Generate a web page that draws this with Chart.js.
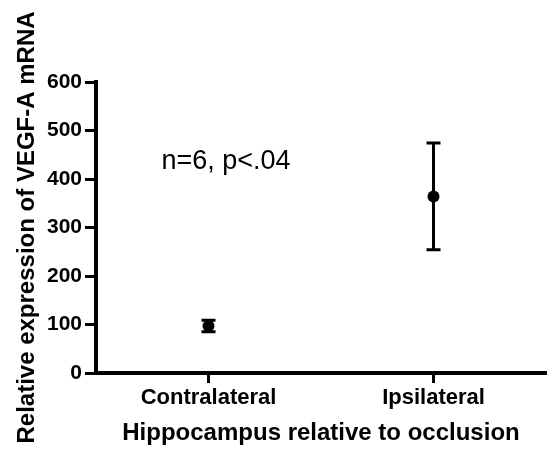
<!DOCTYPE html>
<html>
<head>
<meta charset="utf-8">
<script src="https://cdn.jsdelivr.net/npm/chart.js@4.4.0/dist/chart.umd.min.js"></script>
<style>
  html, body { margin: 0; padding: 0; background: #fff; }
  #wrap { width: 553px; height: 449px; }
</style>
</head>
<body>
<div id="wrap"><canvas id="myChart"></canvas></div>
<script>
// data
const groups = ['Contralateral', 'Ipsilateral'];
const means = [97, 364];
const errors = [12, 110];
const yTicks = [0, 100, 200, 300, 400, 500, 600];
const note = 'n=6, p<.04';

const FONT = "'Liberation Sans', Arial, Helvetica, sans-serif";

// error bars drawn through the scales, under the dots
const errorBars = {
    id: 'errorBars',
    beforeDatasetsDraw(chart) {
        const ctx = chart.ctx;
        const xs = chart.scales.x, ys = chart.scales.y;
        ctx.save();
        ctx.strokeStyle = '#000';
        ctx.lineWidth = 3;
        for (let i = 0; i < means.length; i++) {
            const x = xs.getPixelForValue(i);
            const top = ys.getPixelForValue(means[i] + errors[i]);
            const bot = ys.getPixelForValue(means[i] - errors[i]);
            ctx.beginPath();
            ctx.moveTo(x, top); ctx.lineTo(x, bot);
            ctx.moveTo(x - 7, top); ctx.lineTo(x + 7, top);
            ctx.moveTo(x - 7, bot); ctx.lineTo(x + 7, bot);
            ctx.stroke();
        }
        ctx.restore();
    },
    afterDraw(chart) {
        const ctx = chart.ctx;
        const xs = chart.scales.x, ys = chart.scales.y;
        ctx.save();
        ctx.fillStyle = '#000';
        ctx.font = '27px ' + FONT;
        ctx.textBaseline = 'middle';
        ctx.fillText(note, xs.getPixelForValue(0) - 47, ys.getPixelForValue(435));
        ctx.restore();
    }
};

const ctx = document.getElementById('myChart');
const myChart = new Chart(ctx, {
    type: 'line',
    data: {
        labels: groups,
        datasets: [{
            data: means,
            showLine: false,
            pointRadius: 6,
            pointHoverRadius: 6,
            pointBackgroundColor: '#000',
            pointBorderColor: '#000',
            pointBorderWidth: 0
        }]
    },
    options: {
        responsive: true,
        maintainAspectRatio: false,
        animation: false,
        events: [],
        layout: { padding: { left: 0, right: 7, top: 82, bottom: 0 } },
        plugins: {
            legend: { display: false },
            tooltip: { enabled: false }
        },
        scales: {
            x: {
                type: 'category',
                offset: true,
                afterFit: (s) => { s.height = 76; },
                border: { display: true, color: '#000', width: 4 },
                grid: { drawOnChartArea: false, offset: false, color: '#000', tickLength: 10, tickWidth: 3 },
                ticks: { color: '#000', padding: 2, font: { family: FONT, size: 22, weight: 'bold' } },
                title: {
                    display: true,
                    text: 'Hippocampus relative to occlusion',
                    color: '#000',
                    padding: { top: 0, bottom: 1 },
                    font: { family: FONT, size: 24, weight: 'bold' }
                }
            },
            y: {
                min: 0,
                max: 600,
                afterFit: (s) => { s.width = 96; },
                afterBuildTicks: (s) => { s.ticks = yTicks.map(v => ({ value: v })); },
                border: { display: true, color: '#000', width: 4 },
                grid: { drawOnChartArea: false, color: '#000', tickLength: 11, tickWidth: 3 },
                ticks: { color: '#000', padding: 3, font: { family: FONT, size: 21, weight: 'bold' } },
                title: {
                    display: true,
                    text: 'Relative expression of VEGF-A mRNA',
                    color: '#000',
                    padding: { top: 13, bottom: 0 },
                    font: { family: FONT, size: 24, weight: 'bold' }
                }
            }
        }
    },
    plugins: [errorBars]
});
</script>
</body>
</html>
